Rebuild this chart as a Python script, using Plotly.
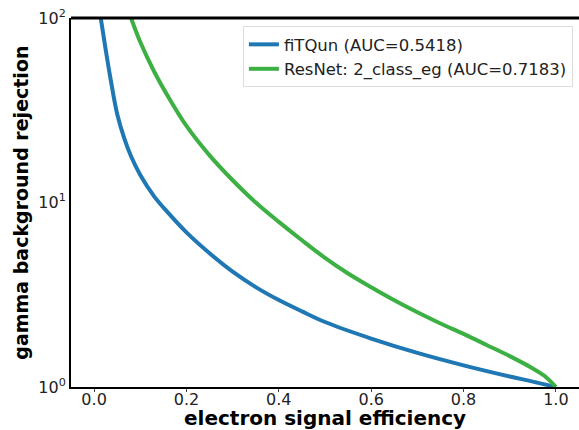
import plotly.graph_objects as go

# ROC-style curves: electron signal efficiency vs gamma background rejection
fitqun_eff = [0.0144, 0.025, 0.036, 0.05, 0.065, 0.08, 0.10, 0.13, 0.16, 0.20, 0.25,
              0.30, 0.35, 0.40, 0.45, 0.50, 0.60, 0.70, 0.80, 0.90, 0.95, 1.0]
fitqun_rej = [100, 67.6, 46.2, 30.2, 22.4, 17.8, 14.1, 10.8, 8.81, 6.89, 5.31,
              4.22, 3.48, 2.96, 2.57, 2.25, 1.83, 1.53, 1.31, 1.14, 1.07, 1.0]

resnet_eff = [0.08, 0.10, 0.13, 0.16, 0.20, 0.25, 0.30, 0.35, 0.40, 0.45, 0.50,
              0.55, 0.60, 0.65, 0.70, 0.75, 0.80, 0.85, 0.90, 0.95, 0.975, 1.0]
resnet_rej = [100, 74.1, 51.3, 37.6, 26.0, 18.0, 13.2, 10.0, 7.85, 6.24, 5.01,
              4.12, 3.47, 2.95, 2.54, 2.21, 1.94, 1.69, 1.47, 1.26, 1.15, 1.0]

series_names = ["fiTQun (AUC=0.5418)", "ResNet: 2_class_eg (AUC=0.7183)"]
series_colors = ["#1f77b4", "#3cb043"]

x_ticks = [0.0, 0.2, 0.4, 0.6, 0.8, 1.0]
x_tick_text = ["0.0", "0.2", "0.4", "0.6", "0.8", "1.0"]
y_ticks = [1, 10, 100]
y_tick_text = ["10<sup>0</sup>", "10<sup>1</sup>", "10<sup>2</sup>"]

x_title = "electron signal efficiency"
y_title = "gamma background rejection"

font_family = "DejaVu Sans"

fig = go.Figure()
for xs, ys, name, color in [(fitqun_eff, fitqun_rej, series_names[0], series_colors[0]),
                            (resnet_eff, resnet_rej, series_names[1], series_colors[1])]:
    fig.add_trace(go.Scatter(
        x=xs, y=ys, mode="lines", name=name,
        line=dict(color=color, width=4, shape="spline", smoothing=1.0),
    ))

fig.update_layout(
    width=579, height=430,
    margin=dict(l=71, r=0, t=18, b=43),
    plot_bgcolor="white", paper_bgcolor="white",
    font=dict(family=font_family, color="#222222"),
    showlegend=True,
    legend=dict(
        x=0.988, y=0.978, xanchor="right", yanchor="top",
        bgcolor="rgba(255,255,255,0.8)", bordercolor="#dddddd", borderwidth=1,
        font=dict(size=16.5, family=font_family, color="#222222"),
        tracegroupgap=0,
    ),
    xaxis=dict(
        range=[-0.05, 1.05], tickvals=x_ticks, ticktext=x_tick_text,
        showgrid=False, zeroline=False,
        showline=True, linecolor="black", linewidth=2,
        ticks="outside", ticklen=3, tickwidth=1, tickcolor="#444444",
        ticklabelstandoff=-6,
        tickfont=dict(size=16, family=font_family, color="#222222"),
    ),
    yaxis=dict(
        type="log", range=[0, 2], tickvals=y_ticks, ticktext=y_tick_text,
        showgrid=False, zeroline=False,
        showline=True, linecolor="black", linewidth=2,
        ticks="", ticklen=0,
        tickfont=dict(size=16, family=font_family, color="#222222"),
    ),
    shapes=[dict(type="line", xref="paper", yref="paper", x0=0, x1=1, y0=1, y1=1,
                 line=dict(color="black", width=3))],
    annotations=[
        dict(text="<b>" + x_title + "</b>", xref="paper", yref="paper",
             x=0.5, y=-0.085, xanchor="center", yanchor="middle", showarrow=False,
             font=dict(size=20, family=font_family, color="black")),
        dict(text="<b>" + y_title + "</b>", xref="paper", yref="paper",
             x=-0.1, y=0.5, xanchor="center", yanchor="middle", showarrow=False,
             textangle=-90, font=dict(size=19, family=font_family, color="black")),
    ],
)

fig.write_html("out.html")
